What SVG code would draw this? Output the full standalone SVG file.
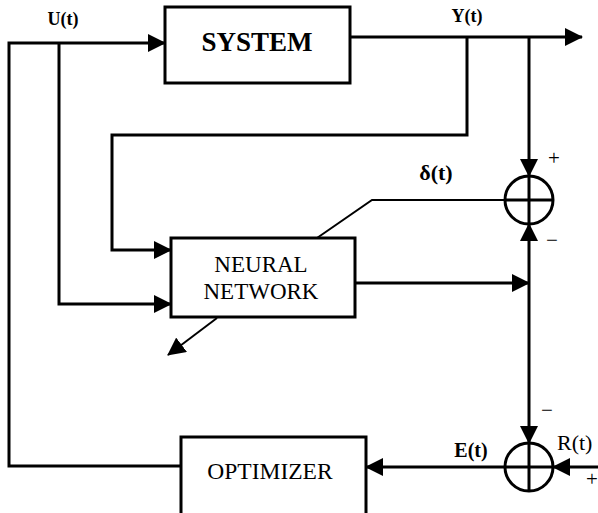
<svg xmlns="http://www.w3.org/2000/svg" width="598" height="513" viewBox="0 0 598 513">
<style>
.box{fill:#fff;stroke:#000;stroke-width:3}
.ln{fill:none;stroke:#000;stroke-width:3}
.thin{fill:none;stroke:#000;stroke-width:2}
text{font-family:'Liberation Serif','Times New Roman','DejaVu Serif',serif;fill:#000}
.lbl{font-weight:bold}
</style>
<defs>
<marker id="ah" viewBox="0 0 18 18" markerWidth="18" markerHeight="18" refX="17" refY="9" orient="auto" markerUnits="userSpaceOnUse">
<path d="M0,0 L18,9 L0,18 z" fill="#000"/>
</marker>
</defs>
<rect width="598" height="513" fill="#fff"/>
<g id="connectors">
<polyline class="ln" points="181,466 9,466 9,43 165,43" marker-end="url(#ah)"/>
<polyline class="ln" points="59,43 59,304 171,304" marker-end="url(#ah)"/>
<polyline class="ln" points="350,37 582,37" marker-end="url(#ah)"/>
<polyline class="ln" points="467,37 467,135 112,135 112,250 171,250" marker-end="url(#ah)"/>
<polyline class="ln" points="529,37 529,176" marker-end="url(#ah)"/>
<polyline class="ln" points="529,283 529,224" marker-end="url(#ah)"/>
<polyline class="ln" points="529,283 529,443" marker-end="url(#ah)"/>
<polyline class="ln" points="355,283 529,283" marker-end="url(#ah)"/>
<polyline class="thin" points="505,200 372,200 317,238"/>
<polyline class="thin" points="217,318 168,355" marker-end="url(#ah)"/>
<polyline class="ln" points="598,467 553,467" marker-end="url(#ah)"/>
<polyline class="ln" points="505,467 366,467" marker-end="url(#ah)"/>
</g>
<g id="system">
<rect class="box" x="165" y="7" width="185" height="76"/>
<text class="lbl" x="257" y="51" font-size="27" text-anchor="middle">SYSTEM</text>
</g>
<g id="neural-network">
<rect class="box" x="171" y="238" width="184" height="79"/>
<text x="261" y="272" font-size="23" text-anchor="middle">NEURAL</text>
<text x="261" y="299" font-size="23" text-anchor="middle">NETWORK</text>
</g>
<g id="optimizer">
<rect class="box" x="181" y="437" width="185" height="90"/>
<text x="270" y="479" font-size="23.5" text-anchor="middle">OPTIMIZER</text>
</g>
<g id="sum1">
<circle class="ln" cx="529" cy="200" r="24" fill="#fff"/>
<line class="ln" x1="505" y1="200" x2="553" y2="200"/>
<line class="ln" x1="529" y1="176" x2="529" y2="224"/>
</g>
<g id="sum2">
<circle class="ln" cx="529" cy="467" r="24" fill="#fff"/>
<line class="ln" x1="505" y1="467" x2="553" y2="467"/>
<line class="ln" x1="529" y1="443" x2="529" y2="491"/>
</g>
<g id="labels">
<text class="lbl" x="63" y="25" font-size="18" text-anchor="middle">U(t)</text>
<text class="lbl" x="467" y="22" font-size="18" text-anchor="middle">Y(t)</text>
<text class="lbl" x="436" y="180" font-size="22" text-anchor="middle">δ(t)</text>
<text class="lbl" x="471" y="457" font-size="20" text-anchor="middle">E(t)</text>
<text x="557" y="450" font-size="22">R(t)</text>
<text x="554" y="165" font-size="21" text-anchor="middle">+</text>
<text x="552" y="247" font-size="21" text-anchor="middle">−</text>
<text x="547" y="417" font-size="21" text-anchor="middle">−</text>
<text x="592" y="486" font-size="21" text-anchor="middle">+</text>
</g>
</svg>
